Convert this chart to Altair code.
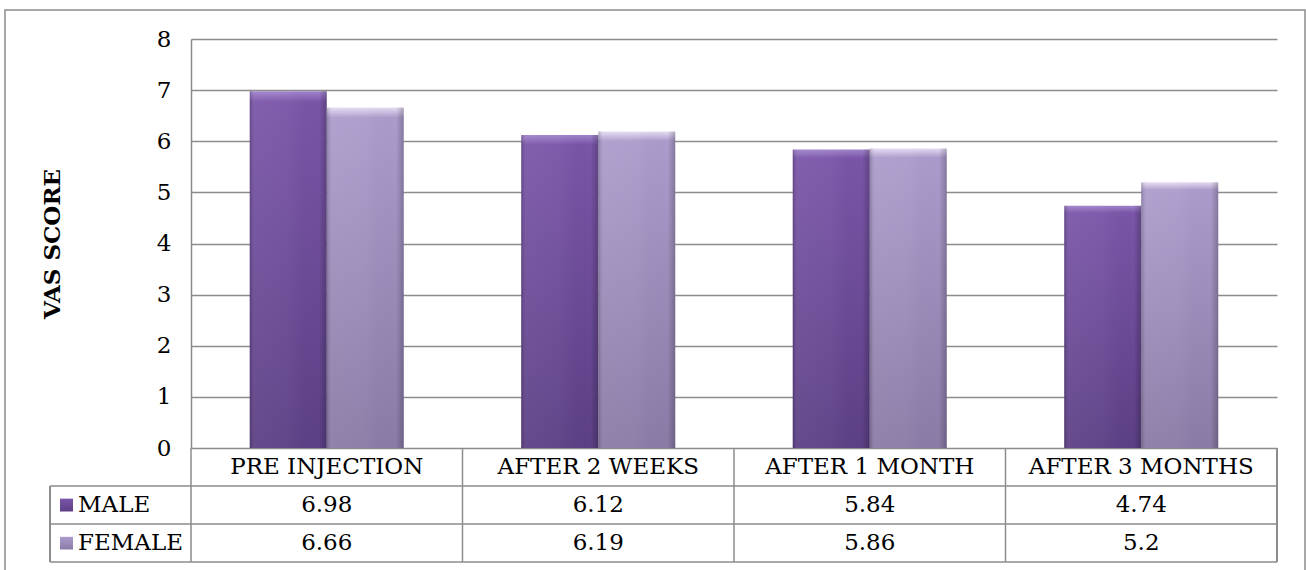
import altair as alt
import pandas as pd

categories = ["PRE INJECTION", "AFTER 2 WEEKS", "AFTER 1 MONTH", "AFTER 3 MONTHS"]
series = ["MALE", "FEMALE"]
male = [6.98, 6.12, 5.84, 4.74]
female = [6.66, 6.19, 5.86, 5.2]
y_ticks = [0, 1, 2, 3, 4, 5, 6, 7, 8]

rows = []
for c, m, f in zip(categories, male, female):
    rows.append({"cat": c, "series": "MALE", "value": m, "label": f"{m:g}"})
    rows.append({"cat": c, "series": "FEMALE", "value": f, "label": f"{f:g}"})
df = pd.DataFrame(rows)
cat_df = pd.DataFrame({"cat": categories})
ser_df = pd.DataFrame({"series": series})

W, H = 1086, 409
PL, PT = 191, 39
FONT = "DejaVu Serif"
LINE = "#8c8c8c"


def ax(dx):
    return alt.value(dx - PL)


def ay(dy):
    return alt.value(dy - PT)


xs = alt.Scale(domain=categories, paddingInner=0, paddingOuter=0)
X = alt.X("cat:N", scale=xs, axis=None)
XO = alt.XOffset("series:N", scale=alt.Scale(domain=series, paddingInner=0, paddingOuter=0.763))
Y = alt.Y(
    "value:Q",
    scale=alt.Scale(domain=[0, 8], nice=False),
    axis=alt.Axis(
        values=y_ticks, title="VAS SCORE", grid=True, gridColor=LINE, gridWidth=1.5,
        domain=True, domainColor=LINE, domainWidth=1.5, ticks=False,
        labelFont=FONT, labelFontSize=23, labelColor="black", labelPadding=20,
        titleFont=FONT, titleFontSize=23, titleFontWeight="bold", titleColor="black",
        titlePadding=92,
    ),
)


def vgrad(top_hi, top, bottom):
    return alt.Gradient(
        gradient="linear", x1=0, x2=0, y1=0, y2=1,
        stops=[
            alt.GradientStop(color=top_hi, offset=0),
            alt.GradientStop(color=top, offset=0.03),
            alt.GradientStop(color=bottom, offset=1),
        ],
    )


male_grad = vgrad("#a083cc", "#7a55a8", "#5c3f85")
female_grad = vgrad("#e6dcf3", "#ab9bcb", "#8a7aa6")
edge_grad = alt.Gradient(
    gradient="linear", x1=0, x2=1, y1=0, y2=0,
    stops=[
        alt.GradientStop(color="rgba(0,0,0,0.2)", offset=0),
        alt.GradientStop(color="rgba(255,255,255,0.06)", offset=0.07),
        alt.GradientStop(color="rgba(255,255,255,0.04)", offset=0.5),
        alt.GradientStop(color="rgba(0,0,0,0)", offset=0.9),
        alt.GradientStop(color="rgba(0,0,0,0.22)", offset=1),
    ],
)

base = alt.Chart(df)

male_bars = base.transform_filter(alt.datum.series == "MALE").mark_bar(color=male_grad).encode(x=X, xOffset=XO, y=Y)
female_bars = base.transform_filter(alt.datum.series == "FEMALE").mark_bar(color=female_grad).encode(x=X, xOffset=XO, y=Y)
edges = base.mark_bar(color=edge_grad).encode(x=X, xOffset=XO, y=Y)

text_kw = dict(font=FONT, fontSize=23, color="black", baseline="middle")
cat_text = alt.Chart(cat_df).mark_text(**text_kw).encode(x=X, y=ay(467), text="cat:N")
male_text = base.transform_filter(alt.datum.series == "MALE").mark_text(**text_kw).encode(x=X, y=ay(505), text="label:N")
female_text = base.transform_filter(alt.datum.series == "FEMALE").mark_text(**text_kw).encode(x=X, y=ay(543), text="label:N")

rule_kw = dict(color=LINE, strokeWidth=1.5)
col_rules = alt.Chart(cat_df).mark_rule(**rule_kw).encode(
    x=alt.X("cat:N", scale=xs, axis=None, bandPosition=0), y=ay(448), y2=ay(562)
)
right_rule = alt.Chart(cat_df).mark_rule(**rule_kw).encode(x=alt.value(W), y=ay(448), y2=ay(562))
left_rule = alt.Chart(cat_df).mark_rule(**rule_kw).encode(x=ax(50), y=ay(486), y2=ay(562))
hlines = alt.Chart(pd.DataFrame({"yy": [486 - PT, 524 - PT, 562 - PT]})).mark_rule(**rule_kw).encode(
    x=ax(50), x2=alt.value(W), y=alt.Y("yy:Q", scale=None)
)

leg_y = {"MALE": 505, "FEMALE": 543}
legend_layers = []
for s, g in zip(series, [male_grad, female_grad]):
    legend_layers.append(
        alt.Chart(ser_df).transform_filter(alt.datum.series == s).mark_rect(color=g).encode(
            x=ax(60), x2=ax(73), y=ay(leg_y[s] - 6.5), y2=ay(leg_y[s] + 6.5)
        )
    )
    legend_layers.append(
        alt.Chart(ser_df).transform_filter(alt.datum.series == s).mark_text(align="left", **text_kw).encode(
            x=ax(78), y=ay(leg_y[s]), text="series:N"
        )
    )

border = alt.Chart(cat_df).transform_filter(alt.datum.cat == categories[0]).mark_rect(
    fill=None, stroke=LINE, strokeWidth=1.5
).encode(x=ax(5), x2=ax(1305), y=ay(10), y2=ay(600))

chart = alt.layer(
    border, male_bars, female_bars, edges, cat_text, male_text, female_text,
    col_rules, right_rule, left_rule, hlines, *legend_layers
).properties(
    width=W, height=H,
    autosize=alt.AutoSizeParams(type="none"),
    padding={"left": PL, "top": PT, "right": 1306 - PL - W, "bottom": 570 - PT - H},
    background="white",
).configure_view(stroke=None)

chart.save("out.html", embed_options={"renderer": "svg", "actions": False})
